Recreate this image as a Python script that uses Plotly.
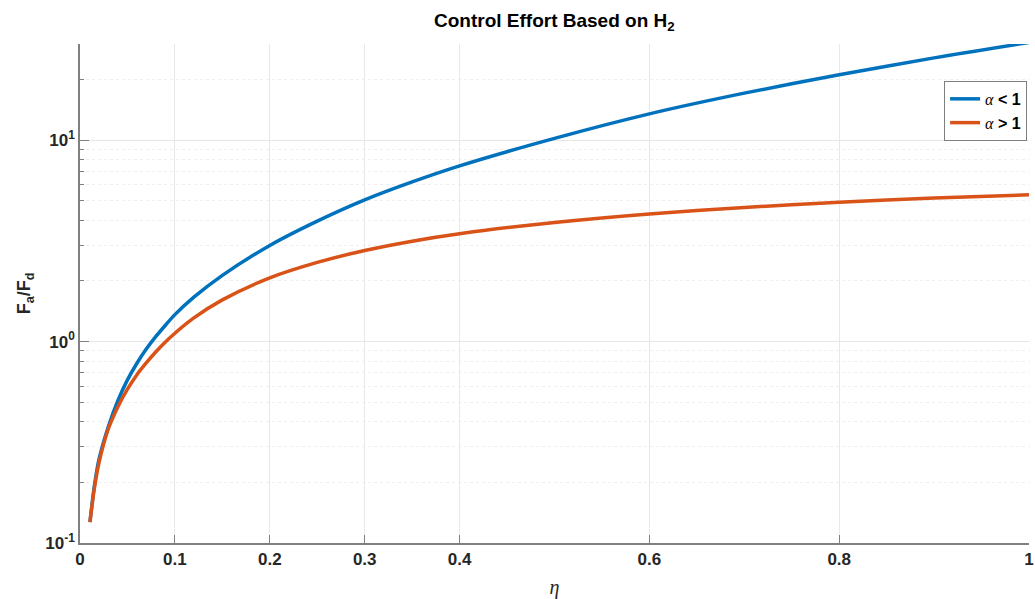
import plotly.graph_objects as go

# eta samples and the two control-effort ratios
eta = [0.0105, 0.015, 0.02, 0.03, 0.04, 0.05, 0.06, 0.07, 0.08, 0.09, 0.10,
       0.12, 0.15, 0.20, 0.25, 0.30, 0.35, 0.40, 0.50, 0.60, 0.70, 0.80,
       0.90, 1.00]
effort_alpha_lt1 = [0.127, 0.19, 0.26, 0.38, 0.51, 0.645, 0.78, 0.92, 1.06,
                    1.205, 1.36, 1.66, 2.13, 3.0, 3.96, 5.05, 6.2, 7.45,
                    10.2, 13.5, 17.1, 21.1, 25.6, 30.5]
effort_alpha_gt1 = [0.127, 0.185, 0.25, 0.37, 0.475, 0.58, 0.685, 0.785, 0.89,
                    0.995, 1.10, 1.31, 1.61, 2.07, 2.47, 2.83, 3.15, 3.43,
                    3.90, 4.30, 4.63, 4.92, 5.16, 5.35]

x_ticks = [0, 0.1, 0.2, 0.3, 0.4, 0.6, 0.8, 1]
x_tick_text = ["0", "0.1", "0.2", "0.3", "0.4", "0.6", "0.8", "1"]
y_ticks = [0.1, 1, 10]
y_tick_text = ["10<sup>-1</sup>", "10<sup>0</sup>", "10<sup>1</sup>"]

SANS = "Liberation Sans, Arial, sans-serif"
SERIF = "Liberation Serif, Times New Roman, serif"
TXT = "#262626"

fig = go.Figure()
fig.add_trace(go.Scatter(
    x=eta, y=effort_alpha_lt1, mode="lines",
    name='<span style="font-family:Liberation Serif;font-weight:normal"><i>α</i></span> < 1',
    line=dict(color="#0072BD", width=3.5, shape="spline", smoothing=0.8),
))
fig.add_trace(go.Scatter(
    x=eta, y=effort_alpha_gt1, mode="lines",
    name='<span style="font-family:Liberation Serif;font-weight:normal"><i>α</i></span> > 1',
    line=dict(color="#D95319", width=3.5, shape="spline", smoothing=0.8),
))

fig.update_layout(
    width=1035, height=599,
    margin=dict(l=80, r=6, t=44, b=56),
    paper_bgcolor="white", plot_bgcolor="white",
    font=dict(family=SANS, size=17, color=TXT),
    title=dict(
        text="<b>Control Effort Based on H<sub>2</sub></b>",
        x=0.5356, xanchor="center", y=1 - 20 / 599, yanchor="middle",
        font=dict(family=SANS, size=19, color="black"),
    ),
    showlegend=True,
    legend=dict(
        x=0.998, xanchor="right", y=0.926, yanchor="top",
        bgcolor="white", bordercolor="#7f7f7f", borderwidth=1,
        font=dict(family=SANS, size=16, color="black", weight="bold"),
        itemwidth=30, tracegroupgap=0,
    ),
)

fig.update_xaxes(
    range=[0, 1], tickvals=x_ticks, ticktext=x_tick_text,
    tickfont=dict(family=SANS, size=17, color=TXT, weight="bold"),
    ticks="inside", ticklen=8, tickcolor="#808080",
    showline=True, linecolor="#808080", linewidth=1.5,
    showgrid=True, gridcolor="#e8e8e8", gridwidth=1,
    zeroline=False, mirror=False, automargin=False,
    title=dict(text="<i>η</i>", font=dict(family=SERIF, size=20, color=TXT),
               standoff=14),
)

fig.update_yaxes(
    type="log", range=[-1, 1.477],
    tickvals=y_ticks, ticktext=y_tick_text,
    tickfont=dict(family=SANS, size=17, color=TXT, weight="bold"),
    ticks="inside", ticklen=9, tickcolor="#808080",
    showline=True, linecolor="#808080", linewidth=1.5,
    showgrid=True, gridcolor="#e6e6e6", gridwidth=1,
    zeroline=False, mirror=False, automargin=False,
    minor=dict(ticks="inside", ticklen=4, tickcolor="#808080", dtick="D1",
               showgrid=True, gridcolor="#eeeeee", griddash="dot", gridwidth=1),
    title=dict(text="<b>F<sub>a</sub>/F<sub>d</sub></b>",
               font=dict(family=SANS, size=18, color=TXT), standoff=10),
)

fig.write_html("out.html")
